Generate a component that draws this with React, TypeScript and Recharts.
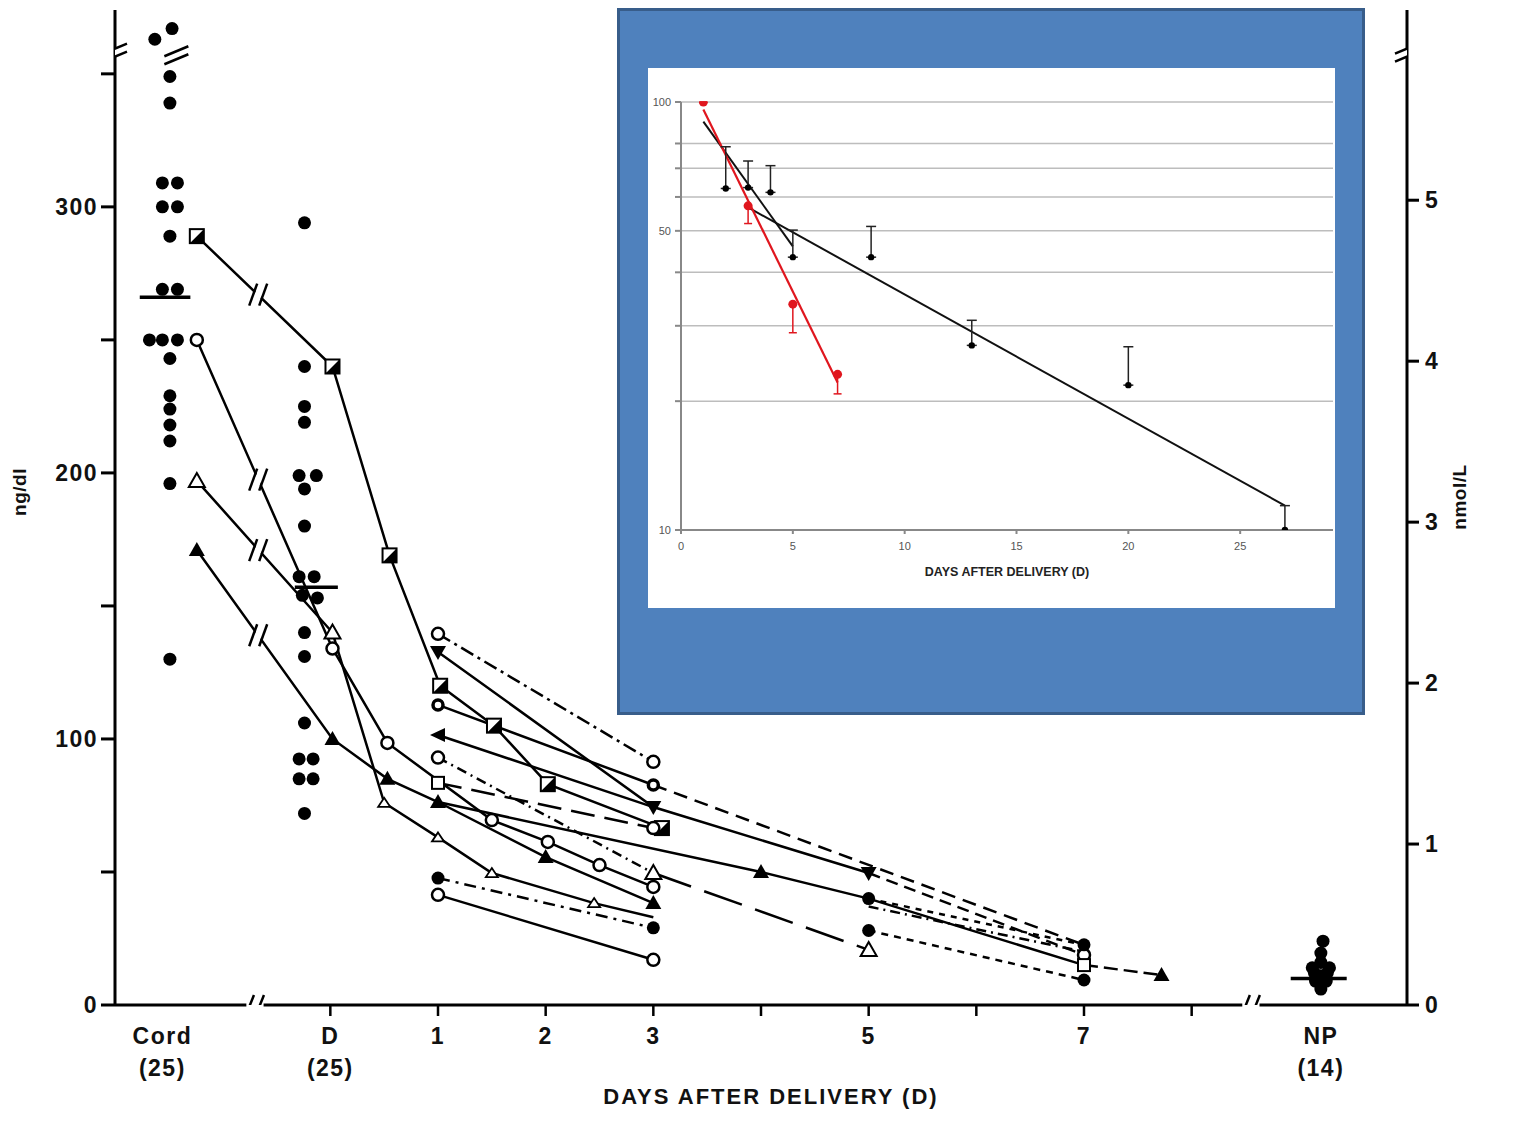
import React from "react";
import {
  ComposedChart,
  Line,
  Scatter,
  XAxis,
  YAxis,
  ReferenceLine,
  ErrorBar,
  CartesianGrid,
} from "recharts";

type Pt = { d: number; v: number; m?: string };

// x is days after delivery; Cord and NP are parked on either end
const CORD = -1.56;
const NP = 9.2;
const NMOL = 60.5; // ng/dl per nmol/L

const cordDots: Pt[] = [
  { d: -1.63, v: 363 }, { d: -1.47, v: 367 }, { d: -1.49, v: 349 }, { d: -1.49, v: 339 },
  { d: -1.56, v: 309 }, { d: -1.42, v: 309 }, { d: -1.56, v: 300 }, { d: -1.42, v: 300 },
  { d: -1.49, v: 289 }, { d: -1.56, v: 269 }, { d: -1.42, v: 269 }, { d: -1.68, v: 250 },
  { d: -1.56, v: 250 }, { d: -1.42, v: 250 }, { d: -1.49, v: 243 }, { d: -1.49, v: 229 },
  { d: -1.49, v: 224 }, { d: -1.49, v: 218 }, { d: -1.49, v: 212 }, { d: -1.49, v: 196 },
  { d: -1.49, v: 130 },
];

const deliveryDots: Pt[] = [
  { d: -0.24, v: 294 }, { d: -0.24, v: 240 }, { d: -0.24, v: 225 }, { d: -0.24, v: 219 },
  { d: -0.29, v: 199 }, { d: -0.13, v: 199 }, { d: -0.24, v: 194 }, { d: -0.24, v: 180 },
  { d: -0.29, v: 161 }, { d: -0.15, v: 161 }, { d: -0.26, v: 154 }, { d: -0.12, v: 153 },
  { d: -0.24, v: 140 }, { d: -0.24, v: 131 }, { d: -0.24, v: 106 }, { d: -0.29, v: 92.5 },
  { d: -0.16, v: 92.5 }, { d: -0.29, v: 85 }, { d: -0.16, v: 85 }, { d: -0.24, v: 72 },
];

const npDots: Pt[] = [
  { d: 9.22, v: 24 }, { d: 9.2, v: 19.5 }, { d: 9.2, v: 16 }, { d: 9.12, v: 14 },
  { d: 9.28, v: 14 }, { d: 9.14, v: 12 }, { d: 9.26, v: 12 }, { d: 9.2, v: 11 },
  { d: 9.15, v: 9 }, { d: 9.25, v: 9 }, { d: 9.2, v: 7.5 }, { d: 9.2, v: 6 },
];

// group means
const meanVals = [266, 157, 10];
const meanFrom = [-1.77, -0.33, 8.92];
const meanTo = [-1.3, 0.07, 9.44];

// day axis drawn in pieces so the breaks show
const axisFrom = [-2, -0.62, 8.63];
const axisTo = [-0.78, 8.47, 10];

// individual patients (m = marker)
const sHalfSq: Pt[] = [
  { d: -1.24, v: 289, m: "hs" }, { d: 0.02, v: 240, m: "hs" }, { d: 0.55, v: 169, m: "hs" },
  { d: 1.02, v: 120, m: "hs" }, { d: 1.52, v: 105, m: "hs" }, { d: 2.02, v: 83, m: "hs" },
  { d: 3.08, v: 66.5, m: "hs" },
];
const sCircle: Pt[] = [
  { d: -1.24, v: 250, m: "oc" }, { d: 0.02, v: 134, m: "oc" }, { d: 0.53, v: 98.5, m: "oc" },
  { d: 1.5, v: 69.5, m: "oc" }, { d: 2.02, v: 61.3, m: "oc" }, { d: 2.5, v: 52.6, m: "oc" },
  { d: 3, v: 44.4, m: "oc" },
];
const sOpenTri: Pt[] = [
  { d: -1.24, v: 197, m: "ot" }, { d: 0.02, v: 140, m: "ot" }, { d: 0.5, v: 76, m: "ots" },
  { d: 1, v: 63, m: "ots" }, { d: 1.5, v: 49.6, m: "ots" }, { d: 2.45, v: 38.3, m: "ots" },
  { d: 3, v: 33, m: "none" },
];
const sFilledTri: Pt[] = [
  { d: -1.24, v: 171, m: "ft" }, { d: 0.02, v: 100, m: "ft" }, { d: 0.53, v: 85, m: "ft" },
  { d: 1, v: 76.3, m: "ft" }, { d: 2, v: 55.6, m: "ft" }, { d: 3, v: 38.3, m: "ft" },
];
const sA: Pt[] = [{ d: 1, v: 139.5, m: "oc" }, { d: 3, v: 91.4, m: "oc" }];
const sB: Pt[] = [{ d: 1, v: 132.7, m: "td" }, { d: 3, v: 74.4, m: "td" }, { d: 5, v: 49.6, m: "td" }];
const sB2: Pt[] = [{ d: 5, v: 49.6, m: "none" }, { d: 7, v: 18.8, m: "oc" }];
const sC: Pt[] = [{ d: 1, v: 112.8, m: "cd" }, { d: 3, v: 82.7, m: "cd" }];
const sC2: Pt[] = [{ d: 3, v: 82.7, m: "none" }, { d: 7, v: 22.6, m: "fc" }];
const sE: Pt[] = [{ d: 1, v: 101.5, m: "tl" }, { d: 3, v: 74.4, m: "none" }];
const sF: Pt[] = [{ d: 1, v: 93, m: "oc" }, { d: 3, v: 49.6, m: "ot" }];
const sF2: Pt[] = [{ d: 3, v: 49.6, m: "none" }, { d: 5, v: 20.7, m: "ot" }];
const sG: Pt[] = [{ d: 1, v: 83.5, m: "os" }, { d: 3, v: 66.5, m: "oc" }];
const sL: Pt[] = [
  { d: 1, v: 76.3, m: "none" }, { d: 4, v: 50, m: "ft" }, { d: 5, v: 40, m: "fc" }, { d: 7, v: 15, m: "os" },
];
const sL2: Pt[] = [{ d: 7, v: 15, m: "none" }, { d: 7.72, v: 11.3, m: "ft" }];
const sJ: Pt[] = [{ d: 1, v: 47.7, m: "fc" }, { d: 3, v: 29, m: "fc" }];
const sK: Pt[] = [{ d: 1, v: 41.4, m: "oc" }, { d: 3, v: 17, m: "oc" }];
const sM: Pt[] = [{ d: 5, v: 40, m: "none" }, { d: 7, v: 22.6, m: "none" }];
const sN: Pt[] = [{ d: 5, v: 37, m: "none" }, { d: 7, v: 20, m: "none" }];
const sP: Pt[] = [{ d: 5, v: 28, m: "fc" }, { d: 7, v: 9.4, m: "fc" }];

const mainSeries: { pts: Pt[]; dash?: string }[] = [
  { pts: sHalfSq }, { pts: sCircle }, { pts: sOpenTri }, { pts: sFilledTri },
  { pts: sA, dash: "14 5 3 5" }, { pts: sB }, { pts: sB2, dash: "12 7" },
  { pts: sC }, { pts: sC2, dash: "14 8" }, { pts: sE }, { pts: sF, dash: "10 5 2 5" },
  { pts: sF2, dash: "40 14" }, { pts: sG, dash: "24 10" }, { pts: sL }, { pts: sL2, dash: "14 6" },
  { pts: sJ, dash: "12 6 3 6" }, { pts: sK }, { pts: sM, dash: "6 6" }, { pts: sN, dash: "10 5 2 5" },
  { pts: sP, dash: "7 6" },
];

// "//" scale breaks: s = on a patient line, x = on the day axis, y = on a value axis
const breaks = [
  { d: -0.67, v: 267, k: "s" }, { d: -0.67, v: 197.5, k: "s" }, { d: -0.67, v: 171, k: "s" },
  { d: -0.67, v: 139, k: "s" }, { d: -0.7, v: 0, k: "x" }, { d: 8.55, v: 0, k: "x" },
  { d: -2, v: 358, k: "y" }, { d: 10, v: 358, k: "y" }, { d: -1.43, v: 357, k: "y" },
];

const xTicks = [CORD, 0, 1, 2, 3, 4, 5, 6, 7, 8, NP];
const xTickLabels = [["Cord", "(25)"], ["D", "(25)"], ["1"], ["2"], ["3"], [], ["5"], [], ["7"], [], ["NP", "(14)"]];
const leftTicks = [0, 50, 100, 150, 200, 250, 300, 350];
const rightTicks = [0, 1, 2, 3, 4, 5];

// inset: % of initial value, log scale
const redDays = [1, 3, 5, 7];
const redVals = [100, 57.2, 33.7, 23.1];
const redLow = [0, 5.2, 4.8, 2.3];
const redFit = [{ d: 1, v: 96 }, { d: 7, v: 22.1 }];
const blackDays = [2, 3, 4, 5, 8.5, 13, 20, 27];
const blackVals = [62.8, 63.1, 61.5, 43.4, 43.4, 27, 21.8, 10];
const blackHigh = [15.8, 9.7, 9.5, 6.8, 7.8, 3.9, 5, 1.4];
const blackFitEarly = [{ d: 1, v: 90 }, { d: 5, v: 46 }];
const blackFitLate = [{ d: 3, v: 56.7 }, { d: 27, v: 11.4 }];
const insetYTicks = [10, 20, 30, 40, 50, 60, 70, 80, 90, 100];
const insetXTicks = [0, 5, 10, 15, 20, 25];

const FONT = "'Liberation Sans', Arial, Helvetica, sans-serif";
const bold = { fontFamily: FONT, fontWeight: 700, fontSize: 23, fill: "#111", letterSpacing: 1.5 };

function Marker({ m, cx, cy }: { m?: string; cx: number; cy: number }) {
  const s = 7;
  switch (m) {
    case "fc":
      return <circle cx={cx} cy={cy} r={6.5} fill="#000" />;
    case "oc":
      return <circle cx={cx} cy={cy} r={6} fill="#fff" stroke="#000" strokeWidth={2.5} />;
    case "cd":
      return <circle cx={cx} cy={cy} r={5} fill="#fff" stroke="#000" strokeWidth={3.5} />;
    case "hs":
      return (
        <g>
          <rect x={cx - s} y={cy - s} width={2 * s} height={2 * s} fill="#fff" stroke="#000" strokeWidth={2} />
          <path d={`M${cx + s},${cy - s}L${cx + s},${cy + s}L${cx - s},${cy + s}Z`} fill="#000" />
        </g>
      );
    case "os":
      return <rect x={cx - 6} y={cy - 6} width={12} height={12} fill="#fff" stroke="#000" strokeWidth={2} />;
    case "ft":
      return <path d={`M${cx},${cy - 8}L${cx + 8},${cy + 6}L${cx - 8},${cy + 6}Z`} fill="#000" />;
    case "ot":
      return <path d={`M${cx},${cy - 8}L${cx + 8},${cy + 6}L${cx - 8},${cy + 6}Z`} fill="#fff" stroke="#000" strokeWidth={2} />;
    case "ots":
      return <path d={`M${cx},${cy - 5}L${cx + 6},${cy + 4}L${cx - 6},${cy + 4}Z`} fill="#fff" stroke="#000" strokeWidth={1.8} />;
    case "td":
      return <path d={`M${cx - 8},${cy - 6}L${cx + 8},${cy - 6}L${cx},${cy + 8}Z`} fill="#000" />;
    case "tl":
      return <path d={`M${cx - 8},${cy}L${cx + 7},${cy - 7}L${cx + 7},${cy + 7}Z`} fill="#000" />;
    default:
      return null;
  }
}

const lineDot = (p: any) => (
  <g key={`m${p.index}`}>
    <Marker m={p.payload?.m} cx={p.cx} cy={p.cy} />
  </g>
);

const dotShape = (p: any) => <circle cx={p.cx} cy={p.cy} r={6.5} fill="#000" />;

function BreakMark(p: any) {
  const { cx, cy } = p;
  const k = p.payload?.k;
  if (k === "y") {
    const a = 12;
    return (
      <g>
        <path d={`M${cx - a},${cy + 1}L${cx + a},${cy - 9}L${cx + a},${cy - 1}L${cx - a},${cy + 9}Z`} fill="#fff" />
        <line x1={cx - a} y1={cy + 1} x2={cx + a} y2={cy - 9} stroke="#000" strokeWidth={2.5} />
        <line x1={cx - a} y1={cy + 9} x2={cx + a} y2={cy - 1} stroke="#000" strokeWidth={2.5} />
      </g>
    );
  }
  const a = k === "x" ? 10 : 11;
  return (
    <g>
      {k === "s" && (
        <path d={`M${cx - 8},${cy + a - 2}L${cx},${cy - a + 2}L${cx + 8},${cy - a + 2}L${cx},${cy + a - 2}Z`} fill="#fff" />
      )}
      <line x1={cx - 9} y1={cy + a} x2={cx - 1} y2={cy - a} stroke="#000" strokeWidth={2.5} />
      <line x1={cx + 1} y1={cy + a} x2={cx + 9} y2={cy - a} stroke="#000" strokeWidth={2.5} />
    </g>
  );
}

const XTick = (p: any) => {
  const v = p.payload.value;
  const i = xTicks.findIndex((t) => Math.abs(t - v) < 1e-6);
  const lines = i >= 0 ? xTickLabels[i] : [];
  return (
    <g>
      {v >= 0 && v <= 8 && <line x1={p.x} y1={p.y} x2={p.x} y2={p.y + 11} stroke="#000" strokeWidth={2.5} />}
      {lines.map((t, j) => (
        <text key={t} x={p.x} y={p.y + 39 + j * 32} textAnchor="middle" style={bold}>
          {t}
        </text>
      ))}
    </g>
  );
};

const LeftTick = (p: any) => {
  const v = p.payload.value;
  if (v % 100 !== 0) return <g />;
  return (
    <text x={p.x} y={p.y} dy={8} textAnchor="end" style={bold}>
      {v}
    </text>
  );
};

const RightTick = (p: any) => (
  <text x={p.x} y={p.y} dy={8} textAnchor="start" style={bold}>
    {p.payload.value}
  </text>
);

const InsetYTick = (p: any) => {
  const v = p.payload.value;
  if (v !== 10 && v !== 50 && v !== 100) return <g />;
  return (
    <text x={p.x} y={p.y} dy={4} textAnchor="end" fontSize={11} fill="#555" fontFamily={FONT}>
      {v}
    </text>
  );
};

function Inset() {
  const redPts = redDays.map((d, i) => ({ d, v: redVals[i], e: [redLow[i], 0] }));
  const blackPts = blackDays.map((d, i) => ({ d, v: blackVals[i], e: [0, blackHigh[i]] }));
  return (
    <div
      style={{
        position: "absolute",
        left: 617,
        top: 8,
        width: 748,
        height: 707,
        background: "#4F81BD",
        border: "3px solid #385D8A",
        boxSizing: "border-box",
      }}
    >
      <div style={{ position: "absolute", left: 28, top: 57, width: 687, height: 540, background: "#fff" }}>
        <ComposedChart width={687} height={540} margin={{ top: 34, right: 2, left: 0, bottom: 0 }}>
          <CartesianGrid vertical={false} stroke="#bdbdbd" strokeWidth={1.5} />
          <XAxis
            type="number"
            dataKey="d"
            domain={[0, 29.15]}
            ticks={insetXTicks}
            allowDataOverflow
            height={78}
            tickSize={4}
            tickMargin={8}
            stroke="#888"
            strokeWidth={2}
            tick={{ fontSize: 11, fill: "#555", fontFamily: FONT }}
            label={{
              value: "DAYS AFTER DELIVERY (D)",
              position: "insideBottom",
              offset: 32,
              style: { fontFamily: FONT, fontWeight: 700, fontSize: 12.5, fill: "#222" },
            }}
          />
          <YAxis
            type="number"
            scale="log"
            domain={[10, 100]}
            ticks={insetYTicks}
            allowDataOverflow
            width={33}
            tickSize={6}
            tickMargin={4}
            stroke="#888"
            strokeWidth={2}
            tick={InsetYTick}
          />
          <Line data={blackFitEarly} dataKey="v" stroke="#111" strokeWidth={2} dot={false} isAnimationActive={false} />
          <Line data={blackFitLate} dataKey="v" stroke="#111" strokeWidth={2} dot={false} isAnimationActive={false} />
          <Line data={redFit} dataKey="v" stroke="#E0161E" strokeWidth={2.2} dot={false} isAnimationActive={false} />
          <Scatter
            data={blackPts}
            dataKey="v"
            isAnimationActive={false}
            shape={(p: any) => <circle cx={p.cx} cy={p.cy} r={3.2} fill="#000" />}
          >
            <ErrorBar dataKey="e" direction="y" width={5} stroke="#222" strokeWidth={1.5} />
          </Scatter>
          <Scatter
            data={redPts}
            dataKey="v"
            isAnimationActive={false}
            shape={(p: any) => <circle cx={p.cx} cy={p.cy} r={4.5} fill="#E0161E" />}
          >
            <ErrorBar dataKey="e" direction="y" width={4} stroke="#E0161E" strokeWidth={1.5} />
          </Scatter>
        </ComposedChart>
      </div>
    </div>
  );
}

export default function App() {
  return (
    <div style={{ position: "absolute", left: 0, top: 0, width: 1530, height: 1135, background: "#fff", overflow: "hidden" }}>
      <ComposedChart width={1530} height={1135} margin={{ top: 10, right: 0, left: 0, bottom: 0 }}>
        <XAxis
          type="number"
          dataKey="d"
          domain={[-2, 10]}
          ticks={xTicks}
          allowDataOverflow
          height={130}
          axisLine={false}
          tickLine={false}
          tickSize={0}
          tickMargin={0}
          tick={XTick}
          interval={0}
          label={{
            value: "DAYS AFTER DELIVERY  (D)",
            position: "insideBottom",
            offset: 31,
            dx: 10,
            style: { ...bold, fontSize: 22, letterSpacing: 2 },
          }}
        />
        <YAxis
          yAxisId="left"
          type="number"
          domain={[0, 374]}
          ticks={leftTicks}
          allowDataOverflow
          width={115}
          tickSize={14}
          tickMargin={3}
          stroke="#000"
          strokeWidth={3}
          tick={LeftTick}
          interval={0}
          label={{
            content: () => (
              <text x={26} y={492} transform="rotate(-90 26 492)" textAnchor="middle" style={{ ...bold, fontSize: 19, letterSpacing: 0.5 }}>
                ng/dl
              </text>
            ),
          }}
        />
        <YAxis
          yAxisId="right"
          orientation="right"
          type="number"
          domain={[0, 374 / NMOL]}
          ticks={rightTicks}
          allowDataOverflow
          width={123}
          tickSize={12}
          tickMargin={6}
          stroke="#000"
          strokeWidth={3}
          tick={RightTick}
          interval={0}
          label={{
            content: () => (
              <text x={1466} y={497} transform="rotate(-90 1466 497)" textAnchor="middle" style={{ ...bold, fontSize: 19, letterSpacing: 0.5 }}>
                nmol/L
              </text>
            ),
          }}
        />
        {axisFrom.map((a, i) => (
          <ReferenceLine
            key={`ax${i}`}
            yAxisId="left"
            segment={[{ x: a, y: 0 }, { x: axisTo[i], y: 0 }]}
            stroke="#000"
            strokeWidth={3}
          />
        ))}
        {meanVals.map((v, i) => (
          <ReferenceLine
            key={`mean${i}`}
            yAxisId="left"
            segment={[{ x: meanFrom[i], y: v }, { x: meanTo[i], y: v }]}
            stroke="#000"
            strokeWidth={3.5}
          />
        ))}
        {mainSeries.map((s, i) => (
          <Line
            key={`s${i}`}
            yAxisId="left"
            data={s.pts}
            dataKey="v"
            type="linear"
            stroke="#000"
            strokeWidth={2.5}
            strokeDasharray={s.dash}
            dot={lineDot}
            activeDot={false}
            isAnimationActive={false}
          />
        ))}
        <Scatter yAxisId="left" data={breaks} dataKey="v" shape={BreakMark} isAnimationActive={false} />
        <Scatter yAxisId="left" data={cordDots} dataKey="v" shape={dotShape} isAnimationActive={false} />
        <Scatter yAxisId="left" data={deliveryDots} dataKey="v" shape={dotShape} isAnimationActive={false} />
        <Scatter yAxisId="left" data={npDots} dataKey="v" shape={dotShape} isAnimationActive={false} />
      </ComposedChart>
      <Inset />
    </div>
  );
}
